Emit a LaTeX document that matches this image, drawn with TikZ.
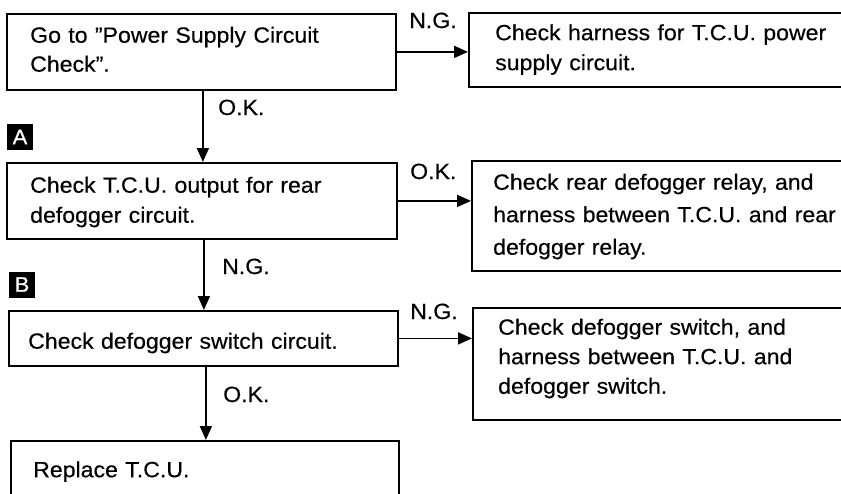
\documentclass[tikz,border=0pt]{standalone}
\usepackage{fontspec}
\setmainfont{Liberation Sans}[FakeStretch=1.05,FakeBold=0.4]
\usetikzlibrary{arrows.meta}
\newcommand\mystrut{\rule{0pt}{16.5pt}}
\tikzset{
  box/.style={draw, line width=1.8pt, anchor=north west, inner sep=0pt},
  txt/.style={anchor=north west, inner sep=0pt, align=left, text width=420pt,
    font=\fontsize{22}{#1}\selectfont},
  lbl/.style={anchor=base west, inner sep=0pt, font=\fontsize{22}{26}\selectfont},
  marker/.style={fill=black, text=white, minimum size=26pt, inner sep=0pt,
    font=\fontsize{21}{21}\selectfont},
  arr/.style={line width=1.8pt, -{Triangle[length=14pt,width=12pt]}},
}
\begin{document}
\begin{tikzpicture}[x=1pt,y=-1pt]
\clip (0,0) rectangle (841,493);
\fill[white] (0,0) rectangle (841,493);
% boxes
\node[box, minimum width=389pt, minimum height=76pt] (b1) at (6,13) {};
\node[box, minimum width=400pt, minimum height=74pt] (b2) at (468,12) {};
\node[box, minimum width=390pt, minimum height=76pt] (b3) at (6,162) {};
\node[box, minimum width=400pt, minimum height=110pt] (b4) at (471,160) {};
\node[box, minimum width=389pt, minimum height=55pt] (b5) at (8,310) {};
\node[box, minimum width=400pt, minimum height=112pt] (b6) at (472,307) {};
\node[box, minimum width=388pt, minimum height=80pt] (b7) at (10,440) {};
% texts
\node[txt=29pt] (t1) at (30,26) {\mystrut Go to ''Power Supply Circuit\\Check''.};
\node[txt=30pt] (t2) at (495,23.5) {\mystrut Check harness for T.C.U. power\\supply circuit.};
\node[txt=30pt] (t3) at (30,176) {\mystrut Check T.C.U. output for rear\\defogger circuit.};
\node[txt=32.5pt] (t4) at (493,173) {\mystrut Check rear defogger relay, and\\harness between T.C.U. and rear\\defogger relay.};
\node[txt=28pt] (t5) at (28,332) {\mystrut Check defogger switch circuit.};
\node[txt=29.5pt] (t6) at (498,318) {\mystrut Check defogger switch, and\\harness between T.C.U. and\\defogger switch.};
\node[txt=28pt] (t7) at (33,460.5) {\mystrut Replace T.C.U.};
% markers
\node[marker] (mA) at (20,137) {A};
\node[marker] (mB) at (22,284.5) {B};
% connectors
\draw[arr] (b1.east) -- (b1.east -| b2.west);
\draw[arr] (b3.east) -- (b3.east -| b4.west);
\draw[arr] (b5.east) -- (b5.east -| b6.west);
\draw[arr] ([xshift=1.5pt]b1.south) -- ([xshift=1.5pt]b1.south |- b3.north);
\draw[arr] ([xshift=2pt]b3.south) -- ([xshift=2pt]b3.south |- b5.north);
\draw[arr] ([xshift=2.5pt]b5.south) -- ([xshift=2.5pt]b5.south |- b7.north);
% labels
\node[lbl] (l1) at (409,28) {N.G.};
\node[lbl] (l2) at (218,115) {O.K.};
\node[lbl] (l3) at (410,179) {O.K.};
\node[lbl] (l4) at (222,274) {N.G.};
\node[lbl] (l5) at (410,319) {N.G.};
\node[lbl] (l6) at (223,402) {O.K.};
\end{tikzpicture}
\end{document}
